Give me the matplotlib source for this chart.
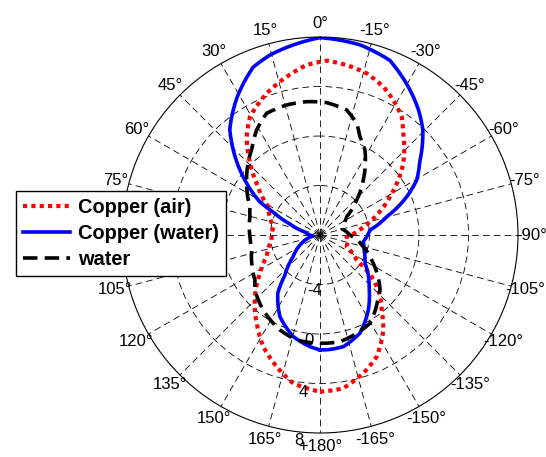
import numpy as np
import matplotlib
matplotlib.use("Agg")
import matplotlib.pyplot as plt

plt.rcParams["font.family"] = ["Liberation Sans", "DejaVu Sans"]

# angle in degrees, counter-clockwise from the top; value on the radial scale
air_theta = [-180, -171.4, -162.6, -155, -146.3, -140.6, -135, -128.9, -124.3, -113.7, -93.6,
             -80.9, -75.1, -69.6, -61.3, -54.9, -49.3, -39.3, -34.6, -28.5, -23.1, -16.1,
             -8.9, -2.2, 4.5, 11.9, 20.6, 30.6, 36.7, 44.3, 50.8, 61.3, 79.9, 95.9, 112.1,
             122.6, 133.5, 144.4, 153.1, 161.8, 169.8, 180]
air_val = [4.66, 4.53, 3.7, 2.85, 1.23, -0.15, -1.14, -2.63, -4.41, -5.64, -5.84,
           -4.59, -3.82, -2.97, -1.55, -0.27, 0.88, 2.62, 3.62, 4.41, 5.03, 5.6,
           5.9, 6.1, 5.78, 5.07, 4.23, 3.11, 1.91, 0.08, -1.4, -3.24, -4.17, -4.07, -3.35,
           -2.25, -0.76, 0.78, 2.12, 3.2, 4.18, 4.66]

wat_cu_theta = [-180, -176, -168.2, -157.9, -147.2, -137.7, -122.2, -110, -98.8, -84.3, -74.7,
                -66.2, -60.4, -53.7, -44.3, -38, -31.8, -21.8, -12, 0, 15.5, 21.7, 31, 40.6,
                45.6, 54.6, 61.2, 63.9, 69.9, 78.7, 98, 114, 129, 138.8, 144, 153.9, 165.3,
                174.9, 180]
wat_cu_val = [1.28, 1.29, 1.22, 0.57, -0.79, -2.1, -3.7, -4.2, -4.46, -3.94, -2.41,
              -0.34, 0.99, 2.0, 3.9, 4.9, 5.8, 7.2, 7.7, 7.95, 7.1, 6.6, 5.0, 3.2,
              1.81, -0.69, -2.47, -3.77, -5.41, -6.76, -7.45, -6.4, -5.2, -3.7, -2.2, -0.65, 0.49,
              1.06, 1.28]

water_theta = [-180, -169.4, -159.5, -150.5, -136.6, -132.5, -118, -105.1, -90, -75, -69,
               -55.6, -46.4, -38.2, -27.9, -22.1, -18.2, -12.1, -2.9, 5.7, 14.4, 23.7, 31.1,
               38.1, 54.8, 68, 75.3, 91.4, 102.4, 112.5, 124.7, 130.2, 142.9, 157.2, 167.5, 180]
water_val = [0.75, 0.77, 0.48, 0.2, -1.14, -1.42, -3.13, -4.38, -5.58, -6.15, -6.12,
             -5.38, -3.9, -2.34, -0.23, 0.57, 1.5, 2.33, 2.71, 2.83, 2.85, 2.74, 1.91,
             0.9, -0.75, -1.9, -2.15, -2.34, -2.35, -2.03, -1.61, -1.12, -0.4, 0.33, 0.69, 0.75]

angle_ticks = list(range(0, 360, 15))
r_ticks = [-4, 0, 4, 8]

fig = plt.figure(figsize=(5.46, 4.57), dpi=100)
ax = fig.add_axes([0.2234, 0.0525, 0.7253, 0.8665], projection="polar")
ax.set_theta_zero_location("N")
ax.set_theta_direction(1)
ax.set_ylim(-8, 8)

grid_kw = dict(color="black", linestyle=(0, (8, 5)), linewidth=0.6)
ax.set_xticks(np.deg2rad(angle_ticks))
ax.set_yticks(r_ticks[:-1])
ax.set_xticklabels([])
ax.set_yticklabels([])
ax.xaxis.grid(True, **grid_kw)
ax.yaxis.grid(True, **grid_kw)
ax.tick_params(length=0)
ax.spines["polar"].set_color("black")
ax.spines["polar"].set_linewidth(0.8)

l1, = ax.plot(np.deg2rad(air_theta), air_val, color="red", linestyle=(0, (1, 1)),
              linewidth=3, label="Copper (air)")
l2, = ax.plot(np.deg2rad(wat_cu_theta), wat_cu_val, color="blue", linestyle="-",
              linewidth=2.6, label="Copper (water)")
l3, = ax.plot(np.deg2rad(water_theta), water_val, color="black", linestyle=(0, (4, 2)),
              linewidth=2.6, label="water")
# draw segments as arcs in polar space instead of straight chords
for ln in (l1, l2, l3):
    ln.get_path()._interpolation_steps = 40

for a in angle_ticks:
    if a <= 165:
        s = str(a)
    elif a == 180:
        s = "+180"
    else:
        s = str(a - 360)
    ax.text(np.deg2rad(a), 9.13, s + "°", ha="center", va="center",
            fontsize=12, clip_on=False)

for rv, pos in zip(r_ticks, [-3.5, 0.55, 4.77, 8.67]):
    ax.text(np.deg2rad(174), pos, str(rv), ha="center", va="center",
            fontsize=12, clip_on=False)

leg = fig.legend(handles=[l1, l2, l3], loc="upper left",
                 bbox_to_anchor=(16 / 546, 1 - 191 / 457),
                 prop={"weight": "bold", "size": 14.4}, frameon=True, fancybox=False,
                 edgecolor="black", framealpha=1, borderaxespad=0, handlelength=2.35,
                 handletextpad=0.4, labelspacing=0.36, borderpad=0.35)
leg.get_frame().set_linewidth(1.0)

fig.savefig("out.png", dpi=100)
